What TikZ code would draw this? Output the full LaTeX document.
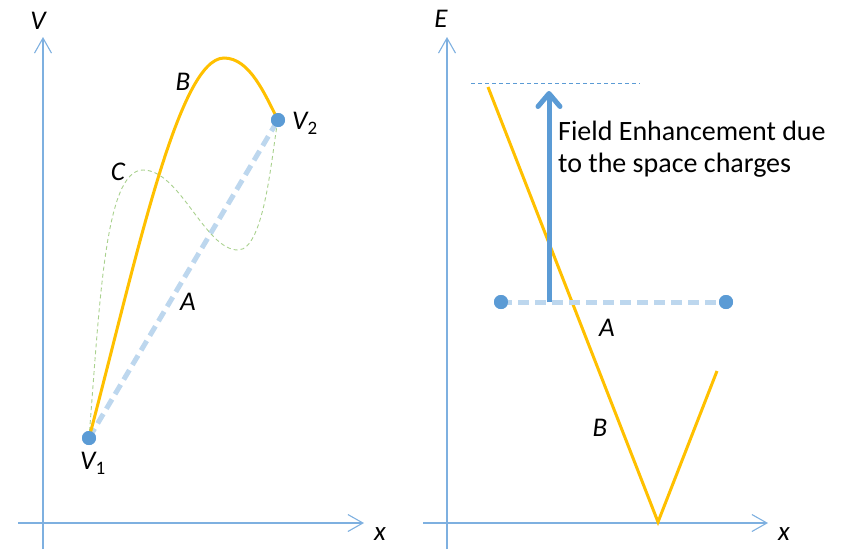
\documentclass[tikz,border=0pt]{standalone}
\usepackage{fontspec}
\setmainfont{Carlito}
\usetikzlibrary{arrows.meta}
\definecolor{axisblue}{HTML}{7EB0E0}
\definecolor{dotblue}{HTML}{5B9BD5}
\definecolor{lightdash}{HTML}{BDD7EE}
\definecolor{curveorange}{HTML}{FFC000}
\definecolor{curvegreen}{HTML}{A9D18E}
\tikzset{
  axisline/.style={draw=axisblue, line width=1.3pt, -{Straight Barb[length=15pt,width=17pt,line width=1.1pt]}},
  dotnode/.style={circle, fill=dotblue, inner sep=0pt, minimum size=14pt},
  lbl/.style={font=\fontsize{27}{30}\selectfont\itshape, inner sep=0pt},
  dashA/.style={draw=lightdash, line width=5pt, dash pattern=on 11pt off 6pt},
  curveB/.style={draw=curveorange, line width=3pt},
  curveC/.style={draw=curvegreen, line width=0.9pt, dash pattern=on 4pt off 3pt},
  bigarrow/.style={draw=dotblue, line width=5pt, -{Straight Barb[length=13pt,width=22pt,round]}},
  thindash/.style={draw=dotblue, line width=0.8pt, dash pattern=on 4pt off 3pt}
}
\newcommand{\subl}[1]{\raisebox{-0.4ex}{\fontsize{19}{19}\selectfont\upshape #1}}
\begin{document}
\begin{tikzpicture}[x=1pt,y=-1pt]
\useasboundingbox (0,0) rectangle (841,550);
% ---------- left panel ----------
\coordinate (lyb) at (43,549);
\coordinate (lyt) at (43,37);
\coordinate (lxl) at (18,523);
\coordinate (lxr) at (364,523);
\draw[axisline] (lyb) -- (lyt);
\draw[axisline] (lxl) -- (lxr);
\node[lbl] (lV) at (38,21) {V};
\node[lbl] (lx) at (380,534) {x};

\node[dotnode] (v1) at (89,438) {};
\node[dotnode] (v2) at (278,120) {};
\draw[dashA] (v1.center) -- (v2.center);
\draw[curveC] (v1.center) .. controls (100,300) and (105,170) .. (143,170)
  .. controls (180,170) and (205,250) .. (238,250)
  .. controls (265,250) and (272,150) .. (v2.center);
\draw[curveB] (v1.center) .. controls (135,265) and (178,58) .. (224,58)
  .. controls (250,58) and (265,95) .. (v2.center);
\node[dotnode] at (v1) {};
\node[dotnode] at (v2) {};
\node[lbl, anchor=west] (lV2) at (292,123) {V\subl{2}};
\node[lbl, anchor=west] (lV1) at (80,463) {V\subl{1}};
\node[lbl] (lB) at (183,82) {B};
\node[lbl] (lC) at (118,172) {C};
\node[lbl] (lA) at (188,302) {A};

% ---------- right panel ----------
\coordinate (ryb) at (447,549);
\coordinate (ryt) at (447,37);
\coordinate (rxl) at (423,523);
\coordinate (rxr) at (768,523);
\draw[axisline] (ryb) -- (ryt);
\draw[axisline] (rxl) -- (rxr);
\node[lbl] (rE) at (441,19) {E};
\node[lbl] (rx) at (784,534) {x};

\coordinate (tdl) at (471,83);
\coordinate (tdr) at (640,83);
\draw[thindash] (tdl) -- (tdr);

\coordinate (ob1) at (488,87);
\coordinate (ob2) at (658,522);
\coordinate (ob3) at (717,371);
\draw[curveB] (ob1) -- (ob2) -- (ob3);

\node[dotnode] (a1) at (501,302) {};
\node[dotnode] (a2) at (726,302) {};
\draw[dashA] (a1.center) -- (a2.center);
\node[dotnode] at (a1) {};
\node[dotnode] at (a2) {};

\coordinate (arb) at (549,302);
\coordinate (art) at (549,91);
\draw[bigarrow] (arb) -- (art);

\node[anchor=base west, inner sep=0pt, align=left, font=\fontsize{28}{32}\selectfont] (fe) at (558,172) {Field Enhancement due\\to the space charges};

\node[lbl] (rA) at (607,328) {A};
\node[lbl] (rB) at (600,428) {B};
\end{tikzpicture}
\end{document}
